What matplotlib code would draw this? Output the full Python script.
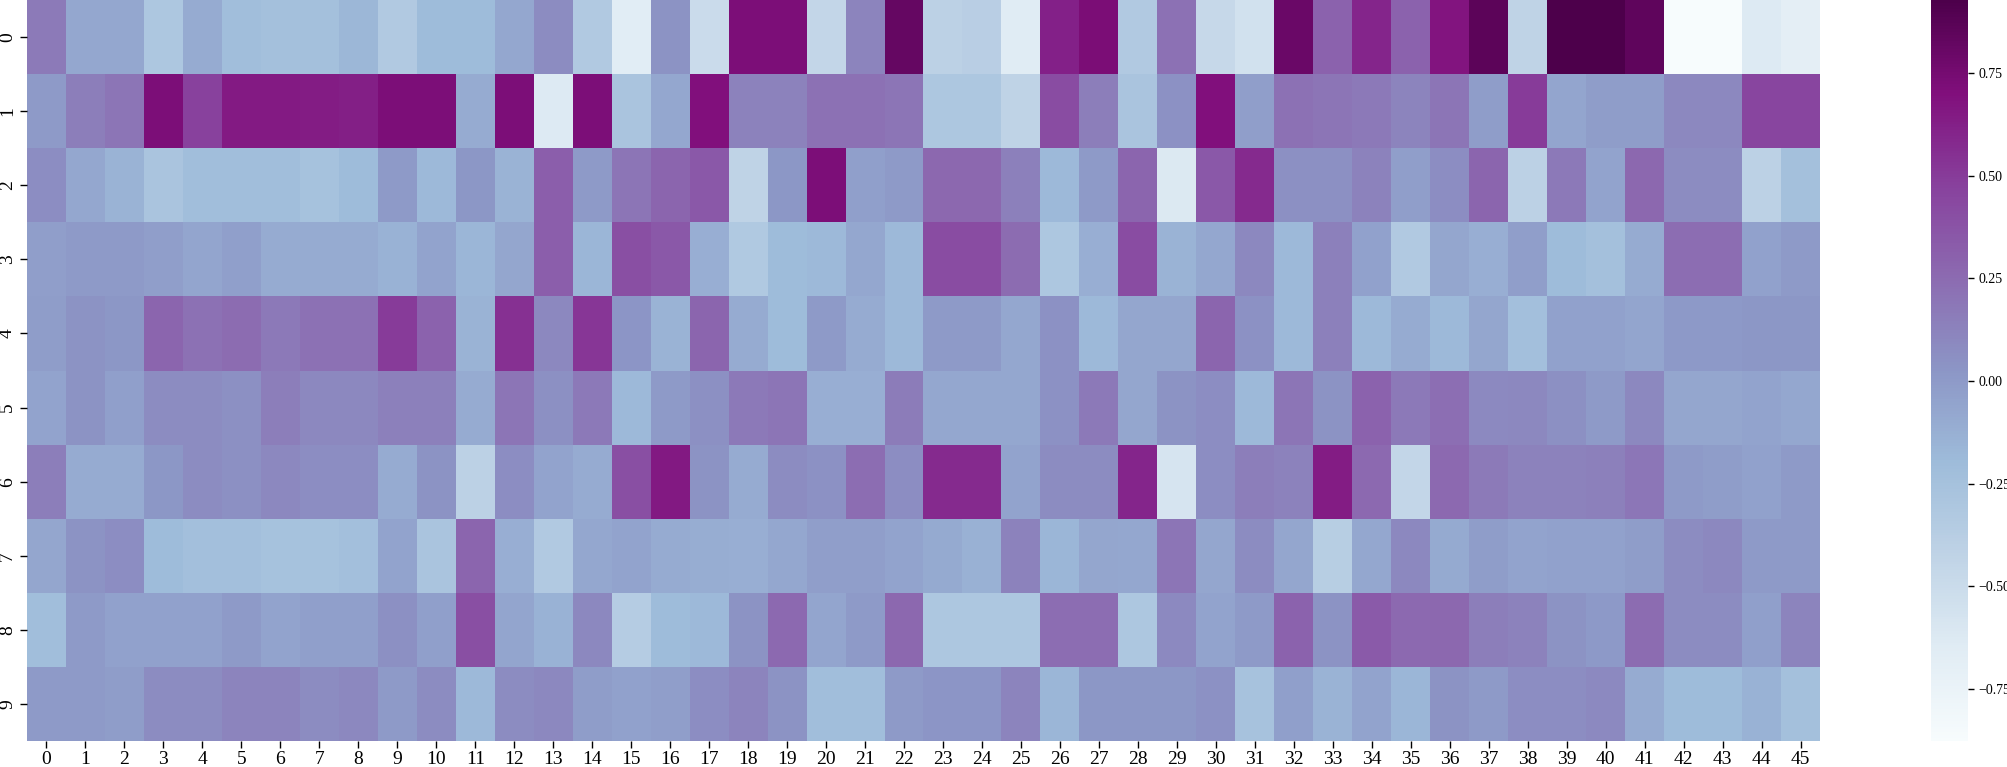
import numpy as np
import matplotlib.pyplot as plt
import seaborn as sns

# valores (10 linhas x 46 colunas)
row_0 = [0.17, -0.08, -0.08, -0.30, -0.10, -0.22, -0.24, -0.24, -0.17, -0.33, -0.20, -0.20, -0.08, 0.08, -0.33, -0.66,
         0.04, -0.50, 0.72, 0.72, -0.45, 0.12, 0.82, -0.40, -0.38, -0.65, 0.62, 0.73, -0.33, 0.22, -0.47, -0.55,
         0.80, 0.30, 0.60, 0.30, 0.68, 0.86, -0.42, 0.93, 0.93, 0.85, -0.87, -0.87, -0.63, -0.68]
row_1 = [0.00, 0.15, 0.20, 0.72, 0.47, 0.65, 0.65, 0.64, 0.63, 0.72, 0.72, -0.10, 0.72, -0.63, 0.72, -0.28,
         -0.08, 0.70, 0.13, 0.13, 0.22, 0.22, 0.20, -0.30, -0.30, -0.42, 0.42, 0.15, -0.28, 0.05, 0.70, -0.02,
         0.22, 0.20, 0.18, 0.12, 0.20, -0.01, 0.50, -0.06, -0.01, -0.01, 0.10, 0.10, 0.45, 0.45]
row_2 = [0.07, -0.08, -0.15, -0.28, -0.22, -0.22, -0.22, -0.25, -0.20, 0.00, -0.18, 0.02, -0.15, 0.32, 0.00, 0.20,
         0.28, 0.35, -0.42, 0.02, 0.72, -0.03, 0.00, 0.27, 0.27, 0.14, -0.18, 0.00, 0.28, -0.62, 0.35, 0.58,
         0.06, 0.06, 0.13, -0.02, 0.07, 0.28, -0.40, 0.18, -0.05, 0.27, 0.08, 0.08, -0.40, -0.24]
row_3 = [-0.02, 0.00, 0.00, -0.02, -0.06, -0.03, -0.10, -0.10, -0.10, -0.14, -0.05, -0.16, -0.07, 0.32, -0.16, 0.40,
         0.35, -0.12, -0.32, -0.20, -0.18, -0.08, -0.18, 0.42, 0.42, 0.25, -0.30, -0.12, 0.42, -0.15, -0.08, 0.10,
         -0.18, 0.14, -0.04, -0.33, -0.07, -0.12, -0.02, -0.20, -0.24, -0.10, 0.24, 0.24, -0.04, 0.00]
row_4 = [-0.01, 0.04, 0.02, 0.28, 0.22, 0.25, 0.18, 0.22, 0.22, 0.50, 0.30, -0.15, 0.55, 0.10, 0.52, 0.03,
         -0.15, 0.28, -0.10, -0.20, 0.00, -0.10, -0.18, 0.00, 0.00, -0.08, 0.05, -0.18, -0.07, -0.07, 0.28, 0.05,
         -0.18, 0.14, -0.18, -0.10, -0.18, -0.07, -0.23, -0.04, -0.04, -0.06, 0.01, 0.01, 0.02, 0.02]
row_5 = [-0.05, 0.04, -0.03, 0.08, 0.08, 0.06, 0.15, 0.10, 0.10, 0.14, 0.14, -0.10, 0.20, 0.06, 0.18, -0.18,
         0.00, 0.06, 0.18, 0.20, -0.12, -0.12, 0.16, -0.08, -0.08, -0.08, 0.05, 0.18, -0.07, 0.04, 0.07, -0.18,
         0.20, 0.04, 0.30, 0.18, 0.23, 0.09, 0.10, 0.06, 0.00, 0.10, -0.07, -0.07, -0.05, -0.08]
row_6 = [0.15, -0.10, -0.10, 0.02, 0.08, 0.06, 0.10, 0.07, 0.07, -0.10, 0.04, -0.40, 0.07, -0.05, -0.10, 0.40,
         0.66, 0.04, -0.10, 0.08, 0.05, 0.24, 0.07, 0.58, 0.58, -0.05, 0.08, 0.08, 0.60, -0.58, 0.07, 0.15,
         0.13, 0.64, 0.26, -0.45, 0.26, 0.17, 0.13, 0.13, 0.14, 0.19, 0.00, -0.01, -0.04, 0.00]
row_7 = [-0.07, 0.04, 0.07, -0.20, -0.23, -0.23, -0.25, -0.25, -0.23, -0.05, -0.28, 0.28, -0.12, -0.33, -0.08, -0.05,
         -0.10, -0.11, -0.12, -0.08, -0.02, -0.02, -0.05, -0.09, -0.13, 0.13, -0.16, -0.07, -0.08, 0.20, -0.07, 0.08,
         -0.07, -0.37, -0.08, 0.10, -0.09, -0.01, -0.05, -0.04, -0.04, -0.01, 0.08, 0.10, 0.00, 0.00]
row_8 = [-0.22, 0.00, -0.04, -0.04, -0.04, 0.00, -0.05, -0.03, -0.03, 0.06, -0.03, 0.40, -0.06, -0.14, 0.10, -0.36,
         -0.20, -0.18, 0.04, 0.26, -0.06, 0.00, 0.27, -0.30, -0.30, -0.30, 0.24, 0.24, -0.30, 0.09, -0.05, 0.00,
         0.30, 0.04, 0.34, 0.26, 0.27, 0.15, 0.13, 0.04, 0.01, 0.25, 0.08, 0.08, -0.03, 0.12]
row_9 = [0.00, 0.00, -0.01, 0.08, 0.08, 0.12, 0.12, 0.08, 0.10, 0.00, 0.08, -0.18, 0.08, 0.10, -0.01, -0.04,
         -0.02, 0.07, 0.12, 0.04, -0.22, -0.22, 0.00, 0.03, 0.03, 0.12, -0.16, 0.02, 0.02, 0.02, 0.05, -0.26,
         -0.03, -0.15, -0.05, -0.16, 0.04, 0.00, 0.07, 0.07, 0.09, -0.10, -0.20, -0.20, -0.14, -0.24]

data = np.array([row_0, row_1, row_2, row_3, row_4, row_5, row_6, row_7, row_8, row_9])
cbar_ticks = [-0.75, -0.50, -0.25, 0.00, 0.25, 0.50, 0.75]
cbar_labels = ['−0.75', '−0.50', '−0.25', '0.00', '0.25', '0.50', '0.75']

plt.rcParams['font.family'] = ['Liberation Serif', 'DejaVu Serif']

W, H = 2008, 767
fig = plt.figure(figsize=(W / 100, H / 100), dpi=100)
ax = fig.add_axes([27 / W, (H - 741) / H, (1820 - 27) / W, 741 / H])
cax = fig.add_axes([1931 / W, (H - 741) / H, (1968 - 1931) / W, 741 / H])

sns.heatmap(data, cmap='BuPu', ax=ax, cbar_ax=cax, vmin=-0.877, vmax=0.928,
            cbar_kws={'ticks': cbar_ticks})

ax.tick_params(axis='x', labelsize=14, length=5, width=1, pad=2)
ax.tick_params(axis='y', labelsize=14, length=5, width=1, pad=3)
for lbl in ax.get_yticklabels():
    lbl.set_rotation(90)
    lbl.set_va('center')
cax.tick_params(labelsize=10, length=4, width=1)
cax.set_yticklabels(cbar_labels)

fig.savefig('out.png', dpi=100)
